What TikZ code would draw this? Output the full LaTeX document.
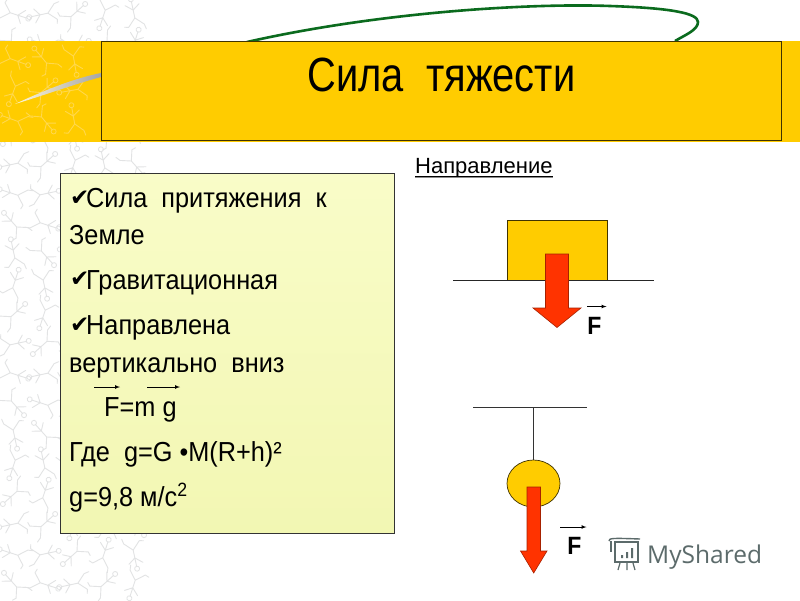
\documentclass[tikz,border=0pt]{standalone}
\usepackage{fontspec}
\setmainfont[FakeStretch=0.92]{Liberation Sans}
\newfontfamily\titlefont[FakeStretch=0.83]{Liberation Sans}
\newfontfamily\plainfont{Liberation Sans}
\newfontfamily\checkfont{DejaVu Sans}
\newfontfamily\logofont{Open Sans}
\usetikzlibrary{shapes.geometric}
\definecolor{gold}{HTML}{FFCC00}
\definecolor{redarrow}{HTML}{FF3300}
\definecolor{paletop}{HTML}{F9FCC8}
\definecolor{palebottom}{HTML}{F2F7B3}
\definecolor{darkgreen}{HTML}{0B6B1E}
\definecolor{twiggray}{HTML}{E2E3E4}
\definecolor{twigpale}{HTML}{FFD84D}
\definecolor{logogray}{HTML}{5C6B6B}
\tikzset{
bodytext/.style = {anchor=base west, inner sep=0pt, font=\fontsize{27.5}{27.5}\selectfont},
checkmark/.style = {anchor=base west, inner sep=0pt, font=\checkfont\fontsize{23}{23}\selectfont},
forcelabel/.style = {anchor=base, inner sep=0pt, font=\bfseries\fontsize{25}{25}\selectfont},
vectorbar/.style = {-latex, black, line width=0.7pt},
outline/.style = {draw=black!75!gold, line width=0.7pt},
forcearrow/.style = {draw=black!35!redarrow, fill=redarrow, line width=0.6pt},
twig/.pic = {
 \draw[line width=0.9pt, line cap=round]
  (0,-13) -- (0,4) (0,4) -- (-8,12) (0,4) -- (8,12) (0,-4) -- (-7,-10) (0,-4) -- (7,-9)
  (-8,12) -- (-12,11) (8,12) -- (9,17);
 \draw[line width=0.8pt] (0,-15) circle (2.5);
}
}
\begin{document}
\begin{tikzpicture}[x=1pt,y=-1pt]
\useasboundingbox (0,0) rectangle (800,600);
\fill[white] (0,0) rectangle (800,600);
% background pattern
\begin{scope}[draw=twiggray]
\foreach \x in {14,44,74,104,134}
 \foreach \y in {14,44,74,104,134,164,194,224,254,284,314,344,374,404,434,464,494,524,554,584}
  \pic[rotate={mod(\x*7+\y*11,360)}] at (\x,\y) {twig};
\end{scope}
\fill[gold] (0,41) rectangle (800,142);
\begin{scope}[draw=twigpale]
\foreach \x in {14,44,74}
 \foreach \y in {60,90,120}
  \pic[rotate={mod(\x*5+\y*9,360)}] at (\x,\y) {twig};
\end{scope}
% curve behind the title
\draw[darkgreen, line width=2.6pt] (247,42) .. controls (380,12) and (530,3) .. (610,6)
 .. controls (670,8) and (698,13) .. (698,22) .. controls (698,30) and (685,35) .. (675,41);
\shade[left color=white!85!gold, right color=gray!70] (15,104) .. controls (45,90) and (75,78) .. (101,73)
 -- (101,77) .. controls (75,84) and (45,95) .. (15,104);
% title
\node (titlebox) [outline, fill=gold, minimum width=680pt, minimum height=99pt, inner sep=0pt] at (441,90.5) {};
\node (title) at (441.5,75) [inner sep=0pt, font=\titlefont\fontsize{48}{48}\selectfont] {Сила\ \ тяжести};
% left box
\node (listbox) [draw=black!80, top color=paletop, bottom color=palebottom, line width=0.7pt, minimum width=334pt, minimum height=360pt, inner sep=0pt] at (227,353) {};
\node (chk1) [checkmark] at (70,205) {✔};
\node (chk2) [checkmark] at (70,286) {✔};
\node (chk3) [checkmark] at (70,332) {✔};
\node (line1) [bodytext] at (86,207) {Сила\ \ притяжения\ \ к};
\node (line2) [bodytext] at (69,244) {Земле};
\node (line3) [bodytext] at (86,289) {Гравитационная};
\node (line4) [bodytext] at (86,334) {Направлена};
\node (line5) [bodytext] at (69,372) {вертикально\ \ вниз};
\node (line6) [bodytext] at (104,416) {F=m g};
\node (line7) [bodytext] at (69,461) {Где\ \ g=G {\fontsize{27}{27}\selectfont•}M(R+h)²};
\node (line8) [bodytext] at (69,506) {g=9,8 м/с\textsuperscript{2}};
\coordinate (vecFa) at (94,387);
\coordinate (vecFb) at (120,387);
\coordinate (vecga) at (147,387);
\coordinate (vecgb) at (180,387);
\draw[vectorbar] (vecFa) -- (vecFb);
\draw[vectorbar] (vecga) -- (vecgb);
% direction
\node (direction) [anchor=base west, inner sep=0pt, font=\plainfont\fontsize{22}{22}\selectfont] at (415,173) {Направление};
\coordinate (undera) at (415,176.5);
\coordinate (underb) at (553,176.5);
\draw[black, line width=0.9pt] (undera) -- (underb);
\draw[black!45, line width=0.9pt] ([yshift=-1.2pt]undera) -- ([yshift=-1.2pt]underb);
% block on the table
\node (block) [outline, fill=gold, minimum width=100pt, minimum height=60pt, inner sep=0pt] at (557,250) {};
\coordinate (tablea) at (453,280);
\coordinate (tableb) at (654,280);
\draw[black!85, line width=0.7pt] (tablea) -- (tableb);
\draw[forcearrow] (545.5,254) -- (568.5,254) -- (568.5,308) -- (581,308) -- (557,327.5) -- (533,308) -- (545.5,308) -- cycle;
\coordinate (bar1a) at (587,306.5);
\coordinate (bar1b) at (606.5,306.5);
\draw[vectorbar] (bar1a) -- (bar1b);
\node (force1) [forcelabel] at (594.5,334) {F};
% ball on the thread
\coordinate (ceilinga) at (473,407);
\coordinate (ceilingb) at (587,407);
\coordinate (hook) at (533.5,407);
\draw[black!80, line width=0.7pt] (ceilinga) -- (ceilingb);
\node (ball) [outline, shape=ellipse, fill=gold, minimum width=53pt, minimum height=47pt, inner sep=0pt] at (533.5,483.5) {};
\draw[black!80, line width=0.7pt] (hook) -- (ball.north);
\draw[forcearrow] (527,487) -- (540.5,487) -- (540.5,551) -- (547,551) -- (533.7,573) -- (520.5,551) -- (527,551) -- cycle;
\coordinate (bar2a) at (560,527);
\coordinate (bar2b) at (586.5,527);
\draw[vectorbar] (bar2a) -- (bar2b);
\node (force2) [forcelabel] at (574.5,554) {F};
% logo
\node (logotext) [anchor=base west, inner sep=0pt, text=logogray, font=\logofont\fontsize{24.5}{24.5}\selectfont] at (647,563) {MyShared};
\draw[logogray, line width=1.4pt] (615,542) rectangle (638,562);
\draw[logogray, line width=1.4pt] (609,541) .. controls (609,538) and (612,538) .. (640,539);
\draw[logogray, line width=1.2pt] (611,541) -- (611,552);
\draw[logogray, line width=1.2pt] (620,563) -- (618,570) (627,563) -- (627,570) (633,563) -- (635,570);
\fill[logogray] (621,555) rectangle (623,558) (626,552) rectangle (628,558) (631,548) rectangle (633,558);
\end{tikzpicture}
\end{document}
